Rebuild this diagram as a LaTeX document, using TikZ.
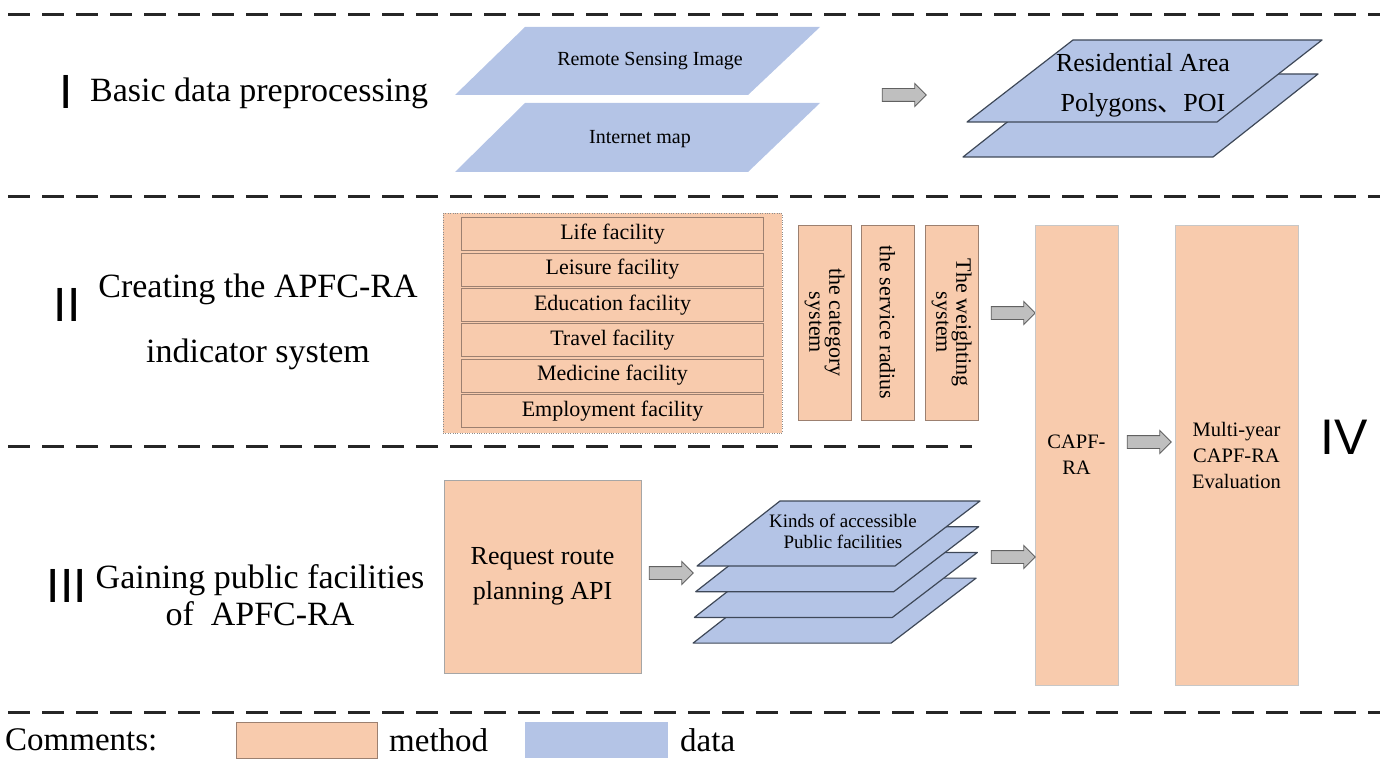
\documentclass[tikz,border=0pt]{standalone}
\usepackage{fontspec}
\setmainfont{Liberation Serif}
\newfontfamily\numfont{Liberation Sans}
\newfontfamily\cjk{Noto Sans CJK SC}
\usepackage{tikz}
\usetikzlibrary{shapes.arrows, positioning, calc}

\definecolor{methodfill}{HTML}{F8CBAD}
\definecolor{methodline}{HTML}{9C8070}
\definecolor{datafill}{HTML}{B4C4E6}
\definecolor{dataline}{HTML}{3E4858}
\newcommand{\fsz}[2]{\fontsize{#1}{#2}\selectfont}

\begin{document}
\begin{tikzpicture}[
    x=1pt, y=-1pt,
    divider/.style={line width=3pt, black!85, dash pattern=on 22pt off 12pt},
    stage/.style={align=center, font=\fsz{34}{40}, inner sep=0pt},
    numeral/.style={font=\numfont\fsz{48}{48}, inner sep=0pt},
    method/.style={draw=methodline, fill=methodfill, align=center, inner sep=1pt},
    facility/.style={method, minimum width=302pt, minimum height=33pt, font=\fsz{22}{24}},
    pillar/.style={method, rotate=-90, minimum width=195pt, minimum height=53pt, font=\fsz{22}{20}},
    tower/.style={method, draw=black!22, minimum height=460pt, font=\fsz{20.5}{26}},
    flatlayer/.style={fill=datafill},
    datalayer/.style={fill=datafill, draw=dataline, line width=1.2pt, line join=round},
    datatext/.style={align=center, inner sep=0pt},
    blockarrow/.style={single arrow, draw=black!62, fill=black!25, line width=0.9pt,
                       minimum height=44pt, inner xsep=0pt, inner ysep=6pt,
                       single arrow head extend=5pt},
    legend/.style={font=\fsz{33}{36}, inner sep=0pt}
]
\useasboundingbox (0,0) rectangle (1380,759);

% dividers between the stages
\draw[divider] (8,15) -- (1380,15);
\draw[divider] (8,197) -- (1380,197);
\draw[divider] (8,446) -- (972,446);
\draw[divider] (8,712) -- (1380,712);

% stage I: source data
\node[numeral] (num1) at (66,92) {I};
\node[stage, anchor=west] (stage1) at (90,93) {Basic data preprocessing};

\fill[flatlayer] (455,95) -- (525,27) -- (820,27) -- (748,95) -- cycle;
\node[datatext, font=\fsz{20}{22}] (rsi) at (650,61) {Remote Sensing Image};
\fill[flatlayer] (455,172) -- (525,103) -- (820,103) -- (748,172) -- cycle;
\node[datatext, font=\fsz{20}{22}] (inet) at (640,139) {Internet map};

\node[blockarrow] (a1) at (901,95) {};

\filldraw[datalayer] (963,157) -- (1068,74) -- (1318,74) -- (1213,157) -- cycle;
\filldraw[datalayer] (967,122) -- (1073,40) -- (1322,40) -- (1217,122) -- cycle;
\node[datatext, font=\fsz{26}{40}] (res) at (1143,85) {Residential Area\\Polygons{\cjk 、}POI};

% stage II: indicator system
\node[numeral] (num2) at (67,305) {II};
\node[stage, font=\fsz{34}{65}] (stage2) at (258,322) {Creating the APFC-RA\\indicator system};

\node[method, draw=black!45, dotted, minimum width=339pt, minimum height=220pt] (facbox) at (612.5,323) {};
\foreach \name [count=\i] in {Life, Leisure, Education, Travel, Medicine, Employment}
    \node[facility] (fac\i) at (612.5,198.5+35.4*\i) {\name{} facility};

\node[pillar] (cat) at (824.5,322.5) {the category\\system};
\node[pillar] (rad) at (887.5,322.5) {the service radius};
\node[pillar] (wgt) at (951.5,322.5) {The weighting\\system};

\node[blockarrow] (a2) at (1010,313) {};

% stage IV: evaluation
\node[tower, minimum width=83pt] (capf) at (1076.5,455) {CAPF-\\RA};
\node[blockarrow] (a3) at (1146,442) {};
\node[tower, minimum width=123pt] (eval) at (1236.5,455) {Multi-year\\CAPF-RA\\Evaluation};
\node[numeral, font=\numfont\fsz{50}{50}] (num4) at (1344,437) {IV};

% stage III: route planning
\node[numeral] (num3) at (67,586) {III};
\node[stage, font=\fsz{34}{37}] (stage3) at (260,595) {Gaining public facilities\\of\ \ APFC-RA};

\node[method, draw=black!35, minimum width=197pt, minimum height=193pt, font=\fsz{26}{35}] (api) at (542.5,576.5) {Request route\\planning API};
\node[blockarrow] (a4) at (668,573) {};

\foreach \k in {3,2,1,0}
    \filldraw[datalayer, shift={(-1.3*\k,25.7*\k)}] (697,566) -- (780,501) -- (980,501) -- (895,566) -- cycle;
\node[datatext, font=\fsz{19}{21}] (kinds) at (843,531) {Kinds of accessible\\Public facilities};

\node[blockarrow] (a5) at (1010,557) {};

% legend
\node[legend, anchor=west] (cmt) at (5,740) {Comments:};
\node[method, minimum width=141pt, minimum height=36pt] (lgm) at (307,740) {};
\node[legend, anchor=west] (lgmt) at (389,740) {method};
\node[fill=datafill, minimum width=143pt, minimum height=36pt] (lgd) at (596,740) {};
\node[legend, anchor=west] (lgdt) at (680,740) {data};
\end{tikzpicture}
\end{document}
